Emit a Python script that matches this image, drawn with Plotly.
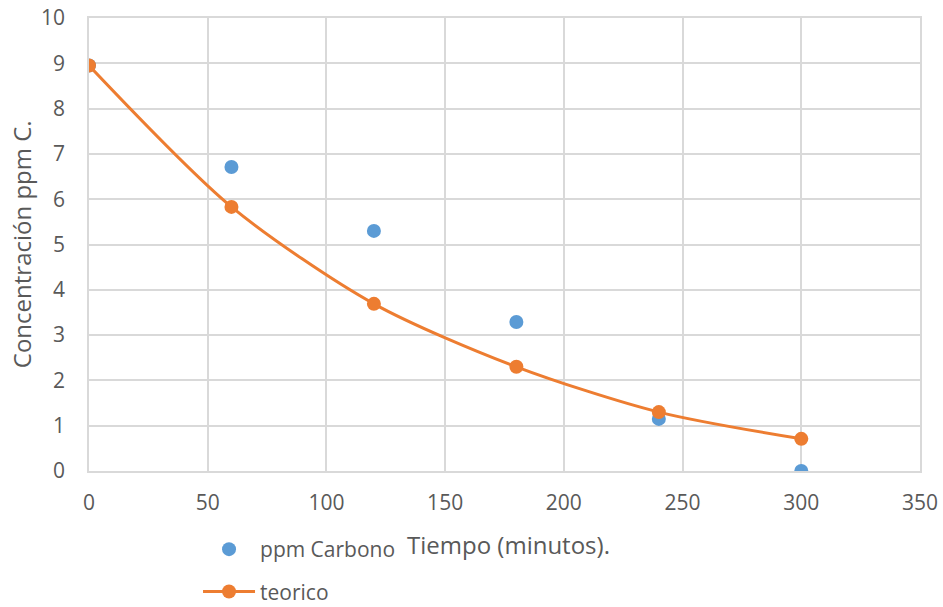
import plotly.graph_objects as go

tiempo = [0, 60, 120, 180, 240, 300]
ppm_carbono = [8.95, 6.71, 5.30, 3.29, 1.15, 0.0]
teorico = [8.95, 5.83, 3.69, 2.30, 1.30, 0.71]

x_ticks = [0, 50, 100, 150, 200, 250, 300, 350]
y_ticks = list(range(0, 11))

_FONT = "'Open Sans', 'Noto Sans', sans-serif"
GREY = "#595959"
GRID = "#d9d9d9"
FS = 21        # ticks and legend
FS_TITLE = 24  # axis titles

fig = go.Figure()
fig.add_trace(go.Scatter(
    x=tiempo, y=ppm_carbono, name="ppm Carbono", mode="markers",
    marker=dict(color="#5B9BD5", size=14), legendgroup="a",
))
fig.add_trace(go.Scatter(
    x=tiempo, y=teorico, name="teorico", mode="lines+markers",
    line=dict(color="#ED7D31", width=3, shape="spline", smoothing=0.8),
    marker=dict(color="#ED7D31", size=14), legendgroup="b",
))

fig.update_layout(
    width=943, height=607,
    paper_bgcolor="white", plot_bgcolor="white",
    font=dict(family=_FONT, color=GREY, size=FS),
    margin=dict(l=89, r=23, t=18, b=136),
    showlegend=True,
    legend=dict(x=0.1312, y=0.1285, xref="paper", yref="container",
                xanchor="left", yanchor="top", itemwidth=52,
                traceorder="grouped", tracegroupgap=12,
                font=dict(size=FS, color=GREY), bgcolor="rgba(0,0,0,0)"),
    annotations=[
        dict(text="Tiempo (minutos).", xref="paper", yref="paper", x=0.505, y=-0.163,
             xanchor="center", yanchor="middle", showarrow=False,
             font=dict(size=FS_TITLE, color=GREY)),
        dict(text="Concentración ppm C.", xref="paper", yref="paper", x=-0.081, y=0.5,
             xanchor="center", yanchor="middle", textangle=-90, showarrow=False,
             font=dict(size=FS_TITLE, color=GREY)),
    ],
)
fig.update_xaxes(
    range=[0, 350], tickvals=x_ticks, showgrid=True, gridcolor=GRID, gridwidth=1.5,
    zeroline=False, showline=True, mirror=True, linecolor=GRID, linewidth=1.5,
    ticklabelstandoff=12, automargin=False, ticklabeloverflow="allow",
)
fig.update_yaxes(
    range=[0, 10], tickvals=y_ticks, showgrid=True, gridcolor=GRID, gridwidth=1.5,
    zeroline=False, showline=True, mirror=True, linecolor=GRID, linewidth=1.5,
    ticklabelstandoff=18, automargin=False, ticklabeloverflow="allow",
)

# drop the default 8px body margin so the figure sits flush in the window
fig.write_html("out.html", config={"displayModeBar": False},
               post_script="document.body.style.margin='0';")
